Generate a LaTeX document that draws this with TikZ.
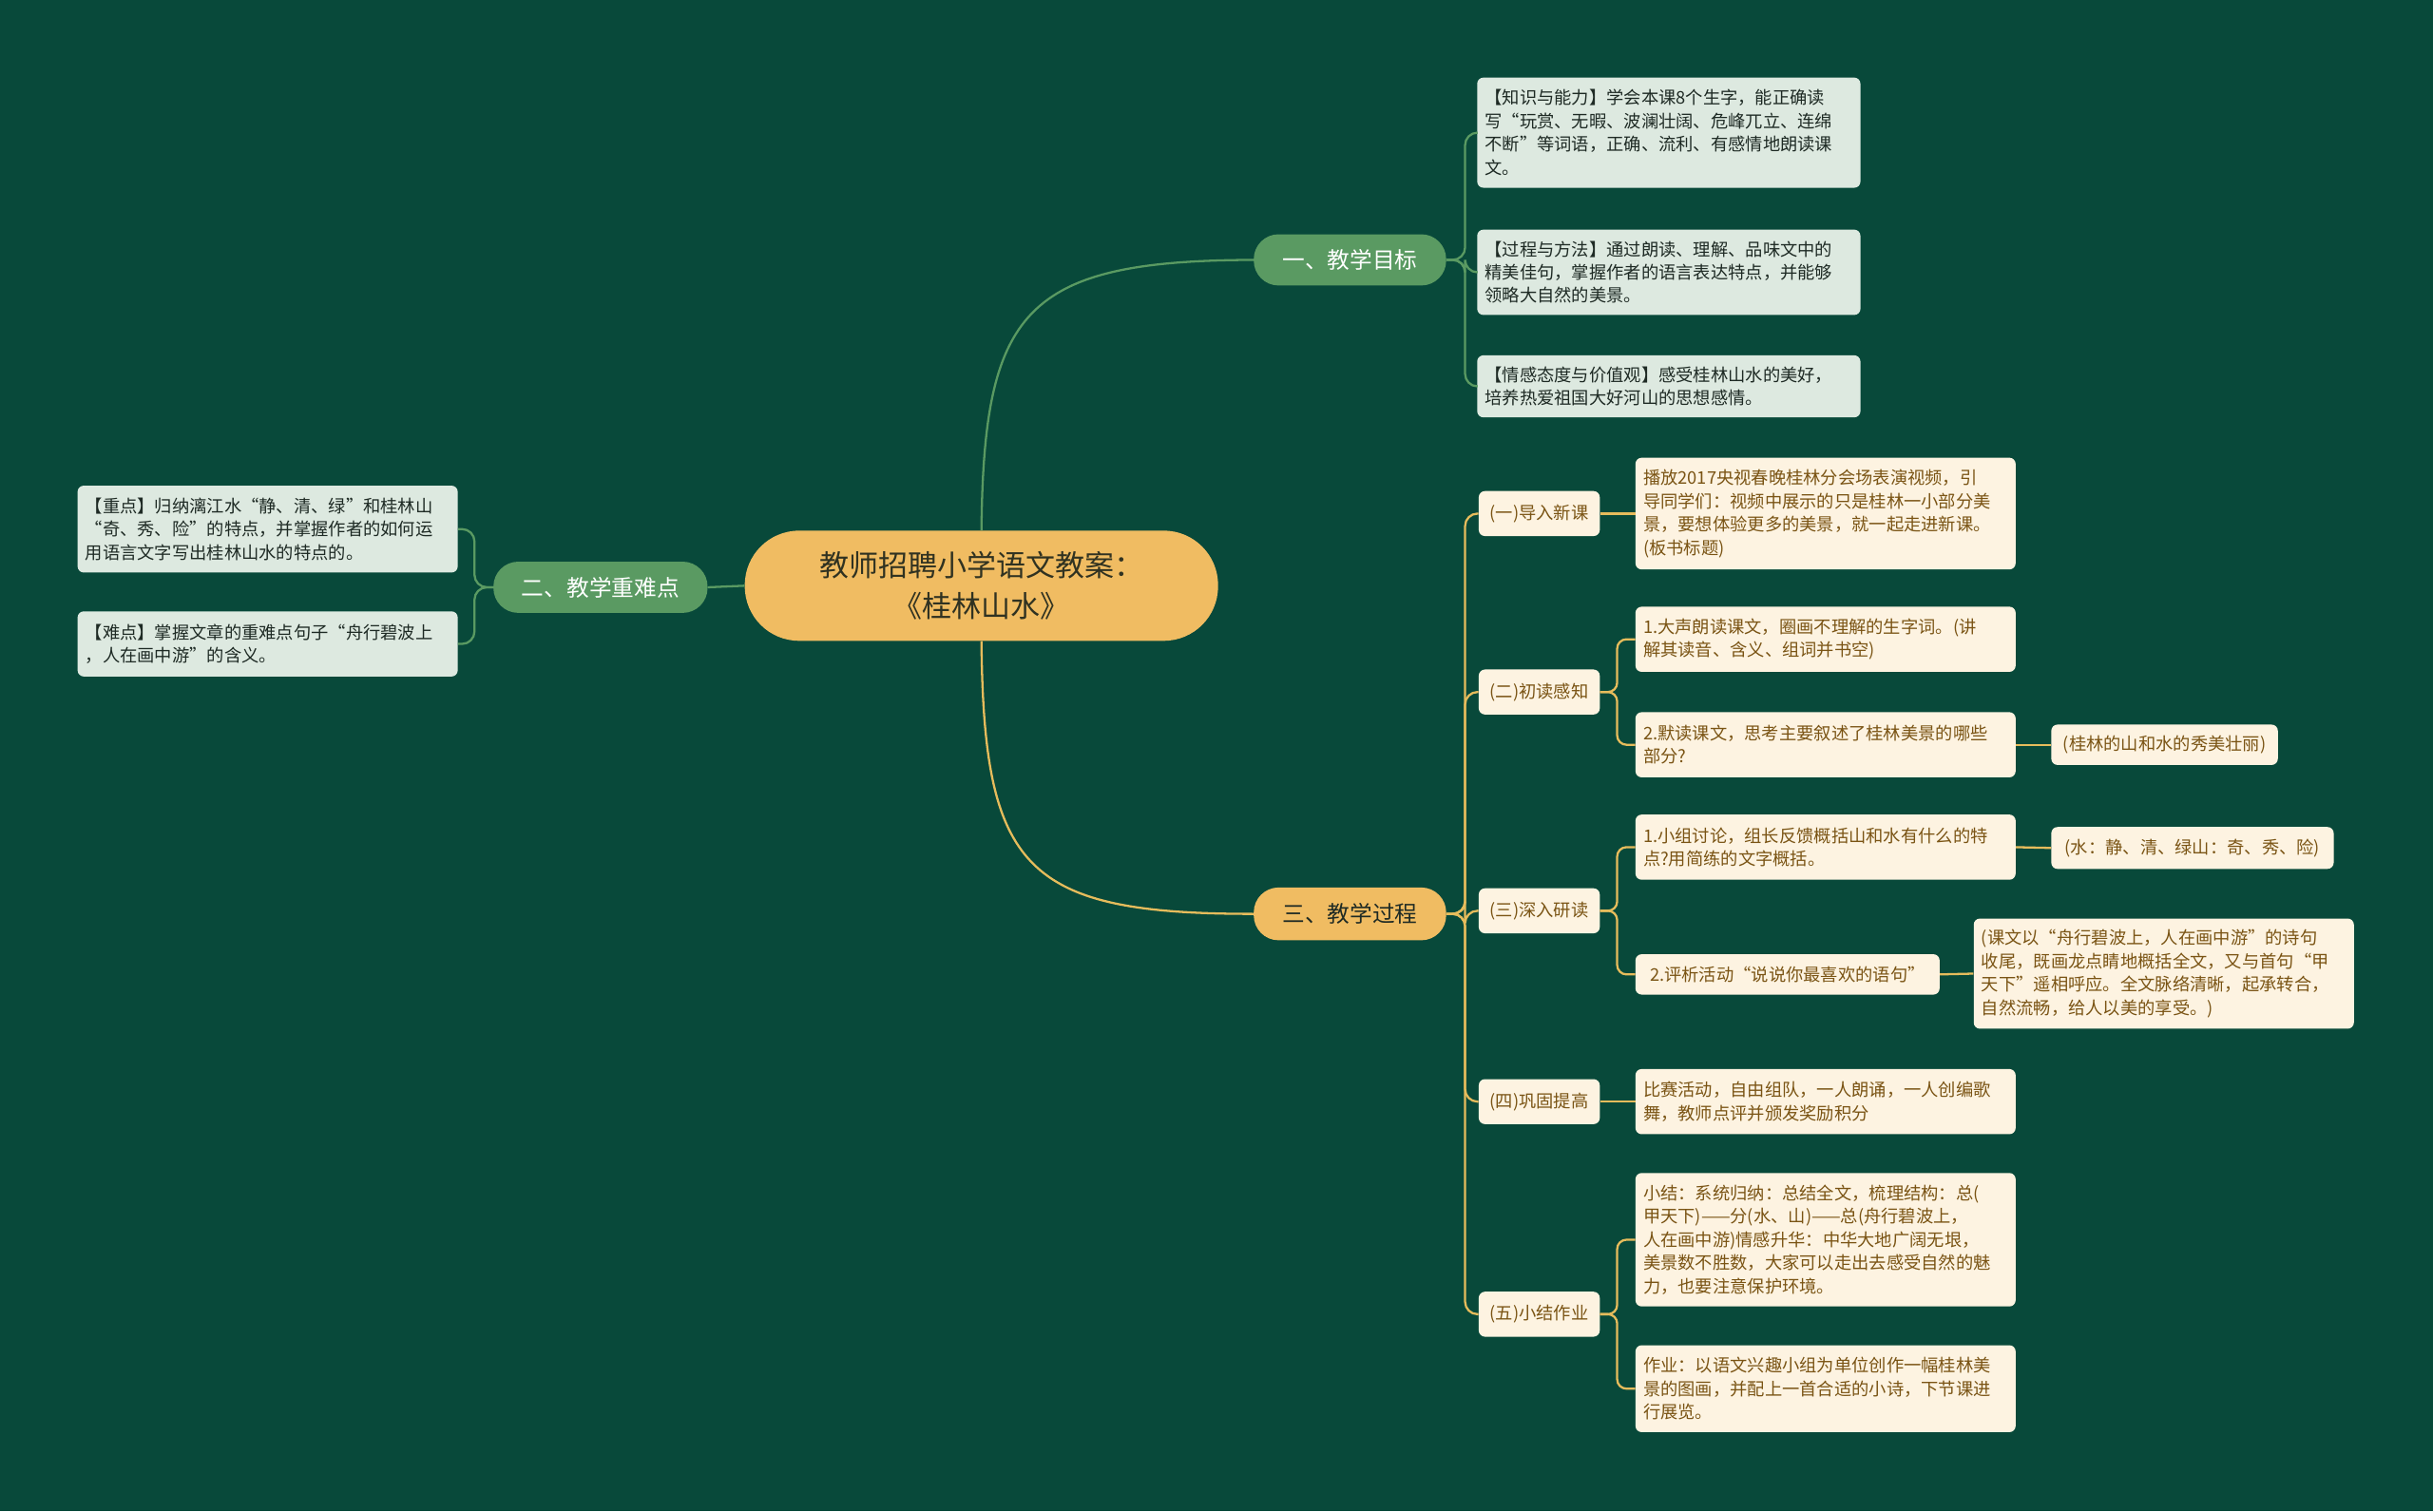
\documentclass[tikz,border=0pt]{standalone}
\usepackage{fontspec}
\setmainfont{Noto Sans CJK SC}
\XeTeXlinebreaklocale "zh"
\definecolor{bg}{HTML}{08493A}
\definecolor{gmain}{HTML}{5A9A62}
\definecolor{gleaff}{HTML}{DDE9E0}
\definecolor{ymain}{HTML}{F0BC62}
\definecolor{yline}{HTML}{E6BC5C}
\definecolor{cream}{HTML}{FDF3E1}
\definecolor{brown}{HTML}{7A5414}
\definecolor{dtext}{HTML}{1E2A24}
\tikzset{
  gleaf/.style={fill=gleaff, rounded corners=4pt, text=dtext, align=left, inner sep=5pt, font=\fontsize{11.2}{15}\selectfont},
  yleaf/.style={fill=cream, rounded corners=4pt, text=brown, align=left, inner sep=5pt, font=\fontsize{11.2}{15}\selectfont},
  gline/.style={draw=gmain, line width=1.4pt},
  yl/.style={draw=yline, line width=1.4pt},
}
\begin{document}
\begin{tikzpicture}[x=1pt,y=-1pt]
\fill[bg] (0,0) rectangle (1568,974);
\useasboundingbox (0,0) rectangle (1568,974);
% root
\node[fill=ymain, rounded corners=35pt, minimum width=305pt, minimum height=71pt, align=center, text=dtext!80!brown, font=\fontsize{19}{26}\selectfont] (root) at (632.5,377.5) {教师招聘小学语文教案：\\《桂林山水》};
% level 1
\node[fill=gmain, rounded corners=16pt, minimum width=124pt, minimum height=33pt, text=white, font=\fontsize{14.5}{18}\selectfont] (g1) at (870,167.5) {一、教学目标};
\node[fill=gmain, rounded corners=16pt, minimum width=138pt, minimum height=33pt, text=white, font=\fontsize{14.5}{18}\selectfont] (g2) at (387,378.5) {二、教学重难点};
\node[fill=ymain, rounded corners=16pt, minimum width=124pt, minimum height=34pt, text=dtext, font=\fontsize{14.5}{18}\selectfont] (g3) at (870,589) {三、教学过程};
% green leaves
\node[gleaf, minimum width=247pt, minimum height=71pt, text width=237pt] (a1) at (1075.5,85.5) {【知识与能力】学会本课8个生字，能正确读\\写“玩赏、无暇、波澜壮阔、危峰兀立、连绵\\不断”等词语，正确、流利、有感情地朗读课\\文。};
\node[gleaf, minimum width=247pt, minimum height=55pt, text width=237pt] (a2) at (1075.5,175.5) {【过程与方法】通过朗读、理解、品味文中的\\精美佳句，掌握作者的语言表达特点，并能够\\领略大自然的美景。};
\node[gleaf, minimum width=247pt, minimum height=40pt, text width=237pt] (a3) at (1075.5,249) {【情感态度与价值观】感受桂林山水的美好，\\培养热爱祖国大好河山的思想感情。};
\node[gleaf, minimum width=245pt, minimum height=56pt, text width=235pt] (b1) at (172.5,341) {【重点】归纳漓江水“静、清、绿”和桂林山\\“奇、秀、险”的特点，并掌握作者的如何运\\用语言文字写出桂林山水的特点的。};
\node[gleaf, minimum width=245pt, minimum height=42pt, text width=235pt] (b2) at (172.5,415) {【难点】掌握文章的重难点句子“舟行碧波上\\，人在画中游”的含义。};
% level 2 yellow
\foreach \n/\y/\t in {c1/331/(一)导入新课, c2/446/(二)初读感知, c3/587/(三)深入研读, c4/710/(四)巩固提高, c5/847/(五)小结作业}
  \node[yleaf, minimum width=78pt, minimum height=29pt, inner sep=3pt] (\n) at (992,\y) {\t};
% leaves yellow
\node[yleaf, minimum width=245pt, minimum height=72pt, text width=235pt] (d1) at (1176.5,331) {播放2017央视春晚桂林分会场表演视频，引\\导同学们：视频中展示的只是桂林一小部分美\\景，要想体验更多的美景，就一起走进新课。\\(板书标题)};
\node[yleaf, minimum width=245pt, minimum height=42pt, text width=235pt] (e1) at (1176.5,412) {1.大声朗读课文，圈画不理解的生字词。(讲\\解其读音、含义、组词并书空)};
\node[yleaf, minimum width=245pt, minimum height=42pt, text width=235pt] (e2) at (1176.5,480) {2.默读课文，思考主要叙述了桂林美景的哪些\\部分?};
\node[yleaf, minimum width=146pt, minimum height=26pt] (e3) at (1395,480) {(桂林的山和水的秀美壮丽)};
\node[yleaf, minimum width=245pt, minimum height=42pt, text width=235pt] (f1) at (1176.5,546) {1.小组讨论，组长反馈概括山和水有什么的特\\点?用简练的文字概括。};
\node[yleaf, minimum width=182pt, minimum height=27pt] (f2) at (1413,546.5) {(水：静、清、绿山：奇、秀、险)};
\node[yleaf, minimum width=196pt, minimum height=26pt] (f3) at (1152,628) {2.评析活动“说说你最喜欢的语句”};
\node[yleaf, minimum width=245pt, minimum height=71pt, text width=235pt] (f4) at (1394.5,627.5) {(课文以“舟行碧波上，人在画中游”的诗句\\收尾，既画龙点睛地概括全文，又与首句“甲\\天下”遥相呼应。全文脉络清晰，起承转合，\\自然流畅，给人以美的享受。)};
\node[yleaf, minimum width=245pt, minimum height=42pt, text width=235pt] (h1) at (1176.5,710) {比赛活动，自由组队，一人朗诵，一人创编歌\\舞，教师点评并颁发奖励积分};
\node[yleaf, minimum width=245pt, minimum height=86pt, text width=235pt] (k1) at (1176.5,799) {小结：系统归纳：总结全文，梳理结构：总(\\甲天下)——分(水、山)——总(舟行碧波上，\\人在画中游)情感升华：中华大地广阔无垠，\\美景数不胜数，大家可以走出去感受自然的魅\\力，也要注意保护环境。};
\node[yleaf, minimum width=245pt, minimum height=56pt, text width=235pt] (k2) at (1176.5,895) {作业：以语文兴趣小组为单位创作一幅桂林美\\景的图画，并配上一首合适的小诗，下节课进\\行展览。};
% connectors
\draw[gline] (root.north) .. controls (634,200) and (660,168) .. (g1.west);
\draw[yl] (root.south) .. controls (634,560) and (660,589) .. (g3.west);
\draw[gline] (root.west) -- (g2.east);
\foreach \t in {a1,a2,a3} \draw[gline, rounded corners=8pt] (g1.east) -- ++(12,0) |- (\t.west);
\foreach \t in {b1,b2} \draw[gline, rounded corners=8pt] (g2.west) -- ++(-12,0) |- (\t.east);
\foreach \t in {c1,c2,c3,c4,c5} \draw[yl, rounded corners=8pt] (g3.east) -- ++(12,0) |- (\t.west);
\draw[yl] (c1.east) -- (d1.west);
\foreach \t in {e1,e2} \draw[yl, rounded corners=6pt] (c2.east) -- ++(11,0) |- (\t.west);
\draw[yl] (e2.east) -- (e3.west);
\foreach \t in {f1,f3} \draw[yl, rounded corners=6pt] (c3.east) -- ++(11,0) |- (\t.west);
\draw[yl] (f1.east) -- (f2.west);
\draw[yl] (f3.east) -- (f4.west);
\draw[yl] (c4.east) -- (h1.west);
\foreach \t in {k1,k2} \draw[yl, rounded corners=6pt] (c5.east) -- ++(11,0) |- (\t.west);
\end{tikzpicture}
\end{document}
